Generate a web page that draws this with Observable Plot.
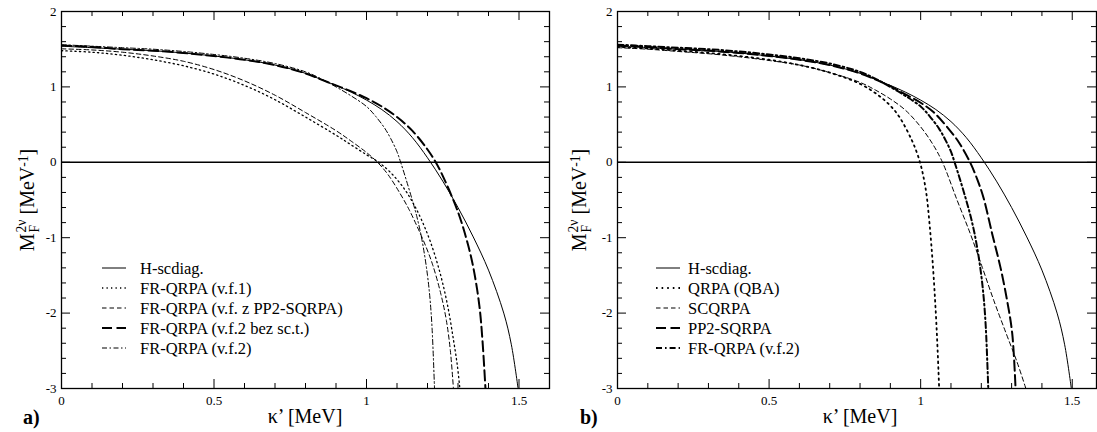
<!DOCTYPE html>
<html><head><meta charset="utf-8">
<script src="https://cdn.jsdelivr.net/npm/d3@7"></script>
<script src="https://cdn.jsdelivr.net/npm/@observablehq/plot@0.6"></script>
<style>
html,body{margin:0;padding:0;background:#fff;}
#wrap{position:relative;width:1097px;height:432px;overflow:hidden;font-family:"Liberation Serif","Times New Roman",serif;color:#000;}
.panel{position:absolute;top:0;}
.lab{position:absolute;white-space:nowrap;font-size:20px;line-height:1;}
.ylab{transform:translate(-50%,-50%) rotate(-90deg);}
.xlab{transform:translate(-50%,-50%);}
.tag{font-weight:bold;transform:translate(0,-50%);}
.stack{display:inline-block;vertical-align:-0.34em;font-size:0.68em;line-height:0.95;text-align:left;margin-left:1px;}
.stack span{display:block;}
sup.e{font-size:0.68em;vertical-align:0.5em;line-height:0;}
svg.leg{position:absolute;left:0;top:0;overflow:visible;}
</style></head>
<body><div id="wrap"></div>
<script>
// ---- data (kappa' in MeV, M_F^{2nu} in MeV^-1) ----
const kH  = [0, 0.1, 0.2, 0.3, 0.4, 0.5, 0.6, 0.7, 0.8, 0.85, 0.9, 0.95, 1.0, 1.05, 1.1, 1.15, 1.2, 1.25, 1.3, 1.35, 1.4, 1.45, 1.475, 1.497];
const mH  = [1.54, 1.52, 1.50, 1.48, 1.45, 1.41, 1.36, 1.29, 1.18, 1.10, 1.02, 0.93, 0.825, 0.70, 0.54, 0.33, 0.06, -0.25, -0.60, -0.99, -1.43, -2.0, -2.42, -3.0];

const kVf1 = [0, 0.1, 0.2, 0.3, 0.4, 0.5, 0.6, 0.7, 0.8, 0.9, 0.95, 1.0, 1.04, 1.08, 1.12, 1.15, 1.18, 1.21, 1.24, 1.265, 1.285, 1.298, 1.306];
const mVf1 = [1.48, 1.46, 1.42, 1.36, 1.28, 1.17, 1.02, 0.83, 0.60, 0.36, 0.23, 0.10, 0.0, -0.14, -0.33, -0.52, -0.76, -1.06, -1.45, -1.88, -2.35, -2.7, -3.0];

const kVfPP2 = [0, 0.1, 0.2, 0.3, 0.4, 0.5, 0.6, 0.7, 0.8, 0.9, 0.95, 1.0, 1.036, 1.07, 1.111, 1.14, 1.167, 1.195, 1.217, 1.244, 1.262, 1.275, 1.285];
const mVfPP2 = [1.505, 1.49, 1.46, 1.41, 1.34, 1.23, 1.08, 0.89, 0.66, 0.42, 0.28, 0.13, 0.0, -0.16, -0.42, -0.63, -0.86, -1.12, -1.36, -1.75, -2.1, -2.5, -3.0];

const kVf2bez = [0, 0.1, 0.2, 0.3, 0.4, 0.5, 0.6, 0.7, 0.8, 0.85, 0.9, 0.95, 1.0, 1.05, 1.1, 1.15, 1.2, 1.227, 1.25, 1.3, 1.33, 1.35, 1.37, 1.38, 1.39];
const mVf2bez = [1.55, 1.53, 1.50, 1.48, 1.45, 1.41, 1.36, 1.29, 1.18, 1.10, 1.02, 0.94, 0.85, 0.74, 0.60, 0.42, 0.17, 0.0, -0.18, -0.66, -1.05, -1.39, -1.90, -2.35, -3.0];

const kVf2 = [0, 0.1, 0.2, 0.3, 0.4, 0.5, 0.6, 0.7, 0.8, 0.85, 0.9, 0.95, 1.0, 1.03, 1.06, 1.08, 1.1, 1.112, 1.13, 1.15, 1.165, 1.178, 1.19, 1.2, 1.208, 1.215, 1.223];
const mVf2 = [1.56, 1.54, 1.52, 1.50, 1.47, 1.43, 1.38, 1.31, 1.20, 1.11, 1.00, 0.88, 0.74, 0.61, 0.45, 0.31, 0.14, 0.0, -0.23, -0.5, -0.72, -0.95, -1.22, -1.5, -1.8, -2.2, -3.0];

const kQBA = [0, 0.1, 0.2, 0.3, 0.4, 0.5, 0.6, 0.7, 0.8, 0.86, 0.9, 0.93, 0.97, 0.99, 1.003, 1.012, 1.02, 1.03, 1.04, 1.05, 1.056, 1.061];
const mQBA = [1.53, 1.51, 1.48, 1.45, 1.41, 1.36, 1.29, 1.19, 1.04, 0.89, 0.75, 0.60, 0.30, 0.10, -0.08, -0.25, -0.45, -0.85, -1.35, -2.0, -2.5, -3.0];

const kSC = [0, 0.1, 0.2, 0.3, 0.4, 0.5, 0.6, 0.7, 0.8, 0.85, 0.9, 0.95, 1.0, 1.04, 1.072, 1.12, 1.164, 1.203, 1.241, 1.282, 1.318, 1.347];
const mSC = [1.52, 1.50, 1.47, 1.44, 1.40, 1.35, 1.29, 1.19, 1.06, 0.96, 0.84, 0.69, 0.47, 0.24, 0.0, -0.5, -0.95, -1.39, -1.83, -2.27, -2.65, -3.0];

const kPP2 = [0, 0.1, 0.2, 0.3, 0.4, 0.5, 0.6, 0.7, 0.8, 0.85, 0.9, 0.95, 1.0, 1.044, 1.109, 1.13, 1.163, 1.188, 1.208, 1.236, 1.263, 1.285, 1.302, 1.313];
const mPP2 = [1.55, 1.53, 1.50, 1.48, 1.45, 1.41, 1.36, 1.29, 1.18, 1.10, 1.01, 0.90, 0.79, 0.66, 0.36, 0.24, 0.0, -0.24, -0.48, -0.95, -1.39, -1.83, -2.27, -3.0];

const namesA = ["H-scdiag.", "FR-QRPA (v.f.1)", "FR-QRPA (v.f. z PP2-SQRPA)", "FR-QRPA (v.f.2 bez sc.t.)", "FR-QRPA (v.f.2)"];
const namesB = ["H-scdiag.", "QRPA (QBA)", "SCQRPA", "PP2-SQRPA", "FR-QRPA (v.f.2)"];

const xTicks = [0, 0.5, 1, 1.5];
const xMinor = [0.1, 0.2, 0.3, 0.4, 0.6, 0.7, 0.8, 0.9, 1.1, 1.2, 1.3, 1.4];
const yTicks = [-3, -2, -1, 0, 1, 2];
const yMinor = [-2.8, -2.6, -2.4, -2.2, -1.8, -1.6, -1.4, -1.2, -0.8, -0.6, -0.4, -0.2, 0.2, 0.4, 0.6, 0.8, 1.2, 1.4, 1.6, 1.8];

// ---- styles ----
const ST = {
  solid:    {w: 1,   dash: null},
  dot:      {w: 1.3, dash: "1.3,3.2"},
  dotB:     {w: 1.8, dash: "1.6,4"},
  dash:     {w: 1,   dash: "4.5,3"},
  longdash: {w: 2,   dash: "10,4.5"},
  dashdot:  {w: 1,   dash: "5,2.5,1.5,2.5"},
  dashdotB: {w: 2,   dash: "6,3,1.6,3"}
};

const seriesA = [
  {name: namesA[0], k: kH, m: mH, st: "solid"},
  {name: namesA[1], k: kVf1, m: mVf1, st: "dot"},
  {name: namesA[2], k: kVfPP2, m: mVfPP2, st: "dash"},
  {name: namesA[3], k: kVf2bez, m: mVf2bez, st: "longdash"},
  {name: namesA[4], k: kVf2, m: mVf2, st: "dashdot"}
];
const seriesB = [
  {name: namesB[0], k: kH, m: mH, st: "solid"},
  {name: namesB[1], k: kQBA, m: mQBA, st: "dotB"},
  {name: namesB[2], k: kSC, m: mSC, st: "dash"},
  {name: namesB[3], k: kPP2, m: mPP2, st: "longdash"},
  {name: namesB[4], k: kVf2, m: mVf2, st: "dashdotB"}
];

const H = 432, MT = 11, MB = 44;
const FONT = "'Liberation Serif', 'Times New Roman', serif";
const wrap = document.getElementById("wrap");

function panel({series, left, width, ml, mr, xmax, legX, legTextX, labX, yLabX, tagX, tag}) {
  const innerH = H - MT - MB, innerW = width - ml - mr;
  const marks = [Plot.ruleY([0], {stroke: "black", strokeWidth: 1.6})];
  for (const s of series) {
    const data = s.k.map((k, i) => ({k, m: s.m[i]}));
    marks.push(Plot.line(data, {x: "k", y: "m", stroke: "black", strokeWidth: ST[s.st].w,
      strokeDasharray: ST[s.st].dash, curve: "catmull-rom", clip: true}));
  }
  marks.push(
    Plot.tickX(xTicks.slice(1), {x: d => d, insetTop: innerH - 9, stroke: "black"}),
    Plot.tickX(xMinor, {x: d => d, insetTop: innerH - 5, stroke: "black"}),
    Plot.tickX(xTicks.slice(1), {x: d => d, insetBottom: innerH - 9, stroke: "black"}),
    Plot.tickX(xMinor, {x: d => d, insetBottom: innerH - 5, stroke: "black"}),
    Plot.tickY(yTicks.slice(1, -1), {y: d => d, insetRight: innerW - 9, stroke: "black"}),
    Plot.tickY(yMinor, {y: d => d, insetRight: innerW - 5, stroke: "black"}),
    Plot.tickY(yTicks.slice(1, -1), {y: d => d, insetLeft: innerW - 9, stroke: "black"}),
    Plot.tickY(yMinor, {y: d => d, insetLeft: innerW - 5, stroke: "black"}),
    Plot.frame({stroke: "black", strokeWidth: 1.3}),
    Plot.axisX(xTicks, {tickSize: 0, tickPadding: 7, tickFormat: d => String(d), label: null, fontSize: 13}),
    Plot.axisY(yTicks, {tickSize: 0, tickPadding: 5, tickFormat: d => String(d), label: null, fontSize: 13})
  );
  const svg = Plot.plot({
    width, height: H, marginLeft: ml, marginRight: mr, marginTop: MT, marginBottom: MB,
    style: {fontFamily: FONT, fontSize: "13px", background: "transparent", overflow: "visible", maxWidth: "none", color: "black"},
    x: {domain: [0, xmax], label: null},
    y: {domain: [-3, 2], label: null},
    marks
  });
  const div = document.createElement("div");
  div.className = "panel";
  div.style.left = left + "px";
  div.appendChild(svg);
  wrap.appendChild(div);

  // legend
  const leg = d3.select(wrap).append("svg").attr("class", "leg").attr("width", 1097).attr("height", H);
  series.forEach((s, i) => {
    const yy = 268 + i * 20;
    leg.append("line").attr("x1", legX).attr("x2", legX + 24).attr("y1", yy).attr("y2", yy)
      .attr("stroke", "black").attr("stroke-width", ST[s.st].w)
      .attr("stroke-dasharray", ST[s.st].dash);
    leg.append("text").attr("x", legTextX).attr("y", yy).attr("dy", "0.35em")
      .style("font-family", FONT).style("font-size", "16.5px").text(s.name);
  });

  // axis labels
  const xl = document.createElement("div");
  xl.className = "lab xlab"; xl.style.left = labX + "px"; xl.style.top = "416px";
  xl.textContent = "κ’ [MeV]";
  wrap.appendChild(xl);
  const yl = document.createElement("div");
  yl.className = "lab ylab"; yl.style.left = yLabX + "px"; yl.style.top = "200px";
  yl.innerHTML = 'M<span class="stack"><span>2ν</span><span>F</span></span> [MeV<sup class="e">-1</sup>]';
  wrap.appendChild(yl);
  const tg = document.createElement("div");
  tg.className = "lab tag"; tg.style.left = tagX + "px"; tg.style.top = "417px";
  tg.textContent = tag;
  wrap.appendChild(tg);
}

panel({series: seriesA, left: 0, width: 552, ml: 61, mr: 3, xmax: 1.6,
  legX: 102, legTextX: 140, labX: 305, yLabX: 29, tagX: 23, tag: "a)"});
panel({series: seriesB, left: 552, width: 545, ml: 65, mr: 1, xmax: 1.58,
  legX: 656, legTextX: 688, labX: 860, yLabX: 581, tagX: 580, tag: "b)"});
</script>
</body></html>
